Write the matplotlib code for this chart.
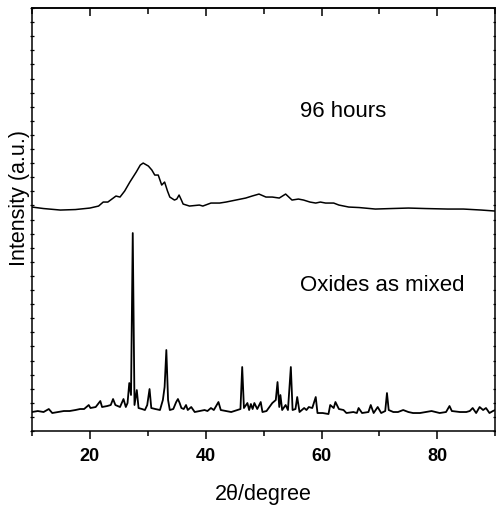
import numpy as np
import matplotlib
matplotlib.use('agg')
import matplotlib.pyplot as plt
from matplotlib.ticker import MultipleLocator

plt.rcParams['font.family'] = ['Liberation Sans', 'DejaVu Sans']

# XRD pattern after 96 hours milling (arbitrary units)
x_96h = [10.0, 12.0, 14.9, 17.5, 20.0, 21.5, 22.3, 23.1, 24.5, 25.2, 26.0, 26.9, 28.0, 28.7,
         29.2, 30.1, 30.7, 31.2, 31.8, 32.4, 32.9, 33.4, 33.8, 34.6, 35.0, 35.4, 35.8, 36.1,
         37.2, 38.9, 39.5, 40.9, 42.4, 43.5, 45.2, 46.9, 48.0, 49.2, 50.4, 51.5, 52.7, 53.8,
         54.9, 56.0, 56.9, 58.0, 59.0, 59.8, 60.7, 62.1, 63.0, 64.7, 66.5, 69.3, 72.0, 75.0,
         78.0, 81.8, 84.5, 87.6, 90.0]
y_96h = [224, 222.5, 221, 221.5, 223, 225, 229, 229, 235, 234, 240, 249, 259, 266,
         268, 265, 261, 256, 256, 246, 249, 240, 234, 231, 232, 236, 231, 227,
         225, 226, 225, 228, 228, 229, 231, 233, 235, 237, 234, 234, 233, 237,
         231, 232, 231, 229, 228, 229, 228, 228, 226, 224, 223.5, 222, 222.5, 223,
         222.5, 222, 222, 221, 220]

# XRD pattern of the oxides as mixed
x_mixed = [10.0, 11.0, 12.0, 12.9, 13.5, 14.5, 15.5, 16.5, 17.5, 18.3, 19.0, 19.8, 20.1, 21.0,
           21.8, 22.1, 23.0, 23.6, 24.0, 24.4, 25.2, 25.8, 26.2, 26.5, 26.8, 27.1, 27.4, 27.7,
           28.1, 28.4, 29.0, 29.5, 29.9, 30.3, 30.6, 31.3, 32.1, 32.6, 32.9, 33.2, 33.5, 33.8,
           34.4, 34.9, 35.2, 35.5, 35.8, 36.2, 36.6, 36.9, 37.5, 38.1, 39.0, 39.8, 40.3, 40.9,
           41.4, 42.2, 42.6, 43.5, 44.4, 45.5, 46.0, 46.3, 46.6, 47.2, 47.5, 47.8, 48.1, 48.4,
           48.9, 49.5, 49.8, 50.5, 51.5, 52.1, 52.4, 52.7, 52.9, 53.2, 53.8, 54.2, 54.7, 55.0,
           55.5, 55.8, 56.2, 57.0, 57.4, 57.8, 58.4, 59.0, 59.3, 60.2, 61.2, 61.5, 62.1, 62.4,
           63.0, 63.8, 64.3, 65.5, 66.1, 66.4, 67.0, 68.1, 68.5, 69.0, 69.7, 70.3, 71.0, 71.3,
           71.6, 72.4, 73.2, 74.1, 75.0, 75.8, 77.0, 78.0, 79.0, 80.4, 81.5, 82.1, 82.5, 83.9,
           85.0, 85.6, 86.1, 86.7, 87.3, 87.9, 88.4, 89.0, 89.6, 90.0]
y_mixed = [19, 20, 19, 22, 18, 19, 20, 20, 21, 22, 22, 26, 23, 24,
           30, 24, 25, 26, 32, 26, 24, 32, 24, 28, 48, 36, 198, 26,
           41, 23, 22, 21, 26, 42, 23, 22, 21, 31, 44, 81, 31, 21,
           22, 29, 32, 28, 23, 22, 26, 21, 24, 19, 20, 21, 20, 23,
           21, 29, 21, 20, 19, 21, 22, 64, 23, 28, 21, 27, 22, 28,
           22, 29, 19, 20, 28, 31, 49, 24, 36, 21, 26, 21, 64, 21,
           22, 34, 19, 23, 21, 24, 23, 34, 18, 18, 17, 26, 23, 29,
           22, 21, 18, 19, 18, 23, 18, 19, 26, 18, 24, 18, 20, 38,
           21, 19, 19, 21, 19, 18, 18, 19, 20, 18, 19, 25, 20, 19,
           19, 20, 23, 18, 24, 21, 23, 18, 20, 21]

fig = plt.figure(figsize=(4.96, 5.05), dpi=100)
ax = fig.add_axes([0.0645, 0.1465, 0.934, 0.8375])

ax.plot(x_96h, y_96h, color='black', lw=1.1)
ax.plot(x_mixed, y_mixed, color='black', lw=1.3)

ax.text(56.3, 320, '96 hours', fontsize=16, va='center', ha='left')
ax.text(56.3, 146, 'Oxides as mixed', fontsize=16, va='center', ha='left')

ax.set_xlim(10, 90)
ax.set_ylim(0, 423)
ax.xaxis.set_major_locator(MultipleLocator(20))
ax.xaxis.set_minor_locator(MultipleLocator(10))
ax.yaxis.set_major_locator(MultipleLocator(423 / 30))
ax.set_yticklabels([])

ax.tick_params(axis='x', which='major', direction='out', length=6, width=1.1, labelsize=13, pad=6)
ax.tick_params(axis='x', which='minor', direction='out', length=3.5, width=1.1)
ax.tick_params(axis='y', which='major', direction='inout', length=3, width=0.9, left=True, right=True)
for lab in ax.get_xticklabels():
    lab.set_fontweight('bold')

top = ax.secondary_xaxis('top')
top.xaxis.set_major_locator(MultipleLocator(20))
top.xaxis.set_minor_locator(MultipleLocator(10))
top.tick_params(which='major', direction='in', length=6, width=1.1, labeltop=False)
top.tick_params(which='minor', direction='in', length=4, width=1.1)

for s in ax.spines.values():
    s.set_linewidth(1.1)
top.spines['top'].set_linewidth(1.1)

ax.set_xlabel('2\u03b8/degree', fontsize=15.5, labelpad=14)
ax.set_ylabel('Intensity (a.u.)', fontsize=15.5)
ax.yaxis.set_label_coords(-0.004, 0.551)

fig.savefig('out.png', dpi=100)
